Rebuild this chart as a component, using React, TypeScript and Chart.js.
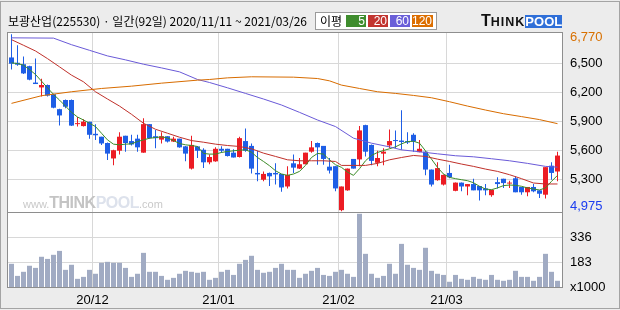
import React, { useEffect, useRef } from 'react';
import { Chart, registerables } from 'chart.js';

Chart.register(...registerables);

// ---- data (KRW, daily, 2020/11/11 ~ 2021/03/26, 92 trading days) ----
const opens = [
  6565, 6510, 6495, 6475, 6305, 6255, 6280, 6185, 6030, 6125,
  6125, 5875, 5855, 5900, 5775, 5745, 5680, 5520, 5600, 5755,
  5700, 5725, 5580, 5875, 5750, 5715, 5750, 5695, 5725, 5645,
  5415, 5645, 5610, 5480, 5490, 5620, 5620, 5580, 5535, 5700,
  5650, 5370, 5300, 5370, 5370, 5360, 5230, 5470, 5415, 5460,
  5590, 5680, 5650, 5435, 5440, 4985, 5190, 5515, 5510, 5865,
  5660, 5475, 5570, 5655, 5710, 5705, 5700, 5765, 5585, 5590,
  5405, 5295, 5250, 5370, 5185, 5270, 5230, 5255, 5235, 5210,
  5140, 5275, 5310, 5260, 5315, 5225, 5170, 5225, 5190, 5145,
  5445, 5385,
];
const highs = [
  6805, 6690, 6575, 6480, 6555, 6345, 6285, 6190, 6035, 6130,
  6130, 5950, 5925, 5900, 5875, 5745, 5685, 5610, 5790, 5755,
  5765, 5765, 5935, 5875, 5815, 5790, 5750, 5745, 5725, 5650,
  5755, 5650, 5625, 5560, 5635, 5645, 5620, 5615, 5745, 5830,
  5675, 5600, 5385, 5375, 5470, 5360, 5440, 5560, 5525, 5580,
  5700, 5685, 5650, 5525, 5440, 5230, 5415, 5515, 5855, 5870,
  5665, 5600, 5625, 5820, 5810, 6020, 5790, 5780, 5710, 5595,
  5405, 5480, 5355, 5455, 5270, 5270, 5255, 5310, 5235, 5255,
  5195, 5325, 5310, 5290, 5335, 5225, 5225, 5255, 5190, 5430,
  5480, 5590,
];
const lows = [
  6440, 6480, 6395, 6330, 6290, 6160, 6160, 6040, 5860, 6040,
  5855, 5850, 5850, 5725, 5710, 5660, 5505, 5450, 5560, 5590,
  5655, 5590, 5580, 5725, 5625, 5675, 5685, 5690, 5630, 5490,
  5405, 5525, 5420, 5460, 5485, 5580, 5540, 5530, 5530, 5590,
  5365, 5285, 5285, 5235, 5250, 5175, 5210, 5370, 5410, 5460,
  5580, 5455, 5455, 5365, 5180, 4975, 5185, 5415, 5440, 5540,
  5450, 5440, 5450, 5625, 5625, 5610, 5670, 5590, 5585, 5345,
  5230, 5290, 5240, 5315, 5180, 5180, 5140, 5190, 5085, 5140,
  5125, 5210, 5215, 5215, 5170, 5145, 5130, 5170, 5110, 5105,
  5300, 5285,
];
const closes = [
  6500, 6490, 6400, 6335, 6290, 6280, 6170, 6045, 5965, 6055,
  5860, 5885, 5900, 5765, 5760, 5675, 5570, 5605, 5745, 5680,
  5665, 5635, 5875, 5730, 5730, 5750, 5695, 5725, 5635, 5570,
  5660, 5600, 5480, 5535, 5620, 5600, 5545, 5530, 5730, 5600,
  5415, 5355, 5360, 5335, 5355, 5220, 5350, 5425, 5460, 5580,
  5635, 5635, 5515, 5395, 5210, 5230, 5415, 5415, 5810, 5590,
  5495, 5525, 5590, 5700, 5700, 5690, 5685, 5695, 5620, 5405,
  5250, 5420, 5350, 5325, 5270, 5230, 5255, 5190, 5190, 5190,
  5195, 5255, 5265, 5265, 5170, 5170, 5225, 5180, 5155, 5430,
  5370, 5550,
];
// volume, thousands of shares
const volumes = [
  173, 99, 124, 161, 148, 216, 203, 228, 252, 136,
  167, 81, 93, 136, 112, 179, 185, 179, 179, 148,
  93, 112, 240, 124, 124, 99, 75, 87, 112, 130,
  124, 118, 124, 75, 87, 124, 136, 105, 173, 197,
  222, 136, 118, 124, 148, 173, 136, 136, 87, 112,
  130, 148, 105, 99, 124, 136, 112, 93, 479, 234,
  112, 87, 99, 173, 112, 295, 167, 148, 136, 271,
  130, 112, 105, 63, 105, 81, 75, 93, 81, 75,
  105, 75, 69, 75, 130, 93, 93, 69, 93, 234,
  124, 69,
];
// moving averages
const ma5 = [
  6509, 6502, 6485, 6440, 6389, 6320, 6251, 6183, 6124, 6062,
  5997, 5949, 5918, 5884, 5850, 5781, 5712, 5668, 5661, 5668,
  5671, 5695, 5712, 5729, 5736, 5743, 5733, 5705, 5675, 5661,
  5654, 5644, 5572, 5565, 5565, 5582, 5592, 5599, 5606, 5609,
  5585, 5530, 5489, 5445, 5393, 5359, 5345, 5359, 5386, 5448,
  5530, 5572, 5565, 5506, 5455, 5428, 5379, 5345, 5414, 5496,
  5551, 5582, 5602, 5620, 5640, 5671, 5695, 5698, 5678, 5599,
  5513, 5428, 5359, 5324, 5311, 5300, 5290, 5269, 5232, 5204,
  5197, 5215, 5239, 5245, 5242, 5232, 5215, 5204, 5194, 5215,
  5283, 5345,
];
const ma20: [number, number][] = [
  [0, 6749], [2, 6691], [4, 6632], [6, 6553], [8, 6468], [10, 6382], [12, 6313],
  [14, 6210], [16, 6135], [18, 6062], [20, 5977], [22, 5884], [24, 5822], [26, 5781],
  [28, 5740], [30, 5705], [32, 5688], [34, 5668], [36, 5654], [38, 5644], [40, 5620],
  [42, 5575], [44, 5541], [46, 5506], [48, 5496], [50, 5496], [52, 5496], [54, 5489],
  [55, 5448], [57, 5448], [59, 5448], [61, 5469], [63, 5506], [65, 5530], [67, 5551],
  [69, 5541], [71, 5513], [73, 5489], [75, 5462], [77, 5438], [79, 5410], [81, 5386],
  [83, 5352], [85, 5311], [87, 5266], [89, 5256], [91, 5256],
];
const ma60: [number, number][] = [
  [0, 6768], [7, 6765], [10, 6697], [13, 6639], [16, 6581], [19, 6540], [22, 6495],
  [25, 6457], [28, 6416], [31, 6337], [33, 6306], [36, 6251], [39, 6193], [42, 6135],
  [45, 6073], [48, 5997], [51, 5918], [54, 5850], [57, 5730], [60, 5678], [63, 5640],
  [65, 5609], [68, 5589], [71, 5568], [74, 5548], [77, 5537], [80, 5517], [83, 5496],
  [86, 5469], [89, 5438], [91, 5430],
];
const ma120: [number, number][] = [
  [0, 6090], [5, 6169], [10, 6210], [15, 6244], [20, 6268], [25, 6299], [31, 6330],
  [33, 6337], [36, 6354], [40, 6365], [47, 6361], [51, 6347], [53, 6323], [55, 6279],
  [58, 6244], [61, 6210], [64, 6193], [67, 6172], [70, 6148], [73, 6107], [76, 6062],
  [79, 6021], [82, 5983], [85, 5953], [88, 5922], [91, 5880],
];
const monthLabels = ['20/12', '21/01', '21/02', '21/03'];
const monthStartIdx = [14, 35, 55, 73];
const periodHigh = 6770;
const periodLow = 4975;
const priceTicks = [4975, 5300, 5600, 5900, 6200, 6500, 6770];
const volumeTicks = [183, 336];
const volumeUnit = 'x1000';
const maLegend = [
  { label: '5', color: '#3f8d2e' },
  { label: '20', color: '#c23530' },
  { label: '60', color: '#6a5fd8' },
  { label: '120', color: '#dc6e00' },
];

// ---- styles ----
const UP = '#ec1c24';
const DOWN = '#1e5ee6';
const GRID = '#d8d8d8';
const FRAME = '#8e8e8e';
const AXIS_FONT = "'Liberation Sans', Arial, sans-serif";
const CJK = "'Noto Sans CJK KR', 'Noto Sans', sans-serif";
const PRICE_MIN = 4966;
const PRICE_MAX = 6818;
const VOL_MIN = 31;
const VOL_MAX = 490;
const TRANSPARENT = 'rgba(0,0,0,0)';

const fmt = (v: number) => v.toLocaleString('en-US');

const framePlugin = {
  id: 'frame',
  beforeDraw(chart: any) {
    const { ctx, chartArea } = chart;
    const { left, top, right, bottom } = chartArea;
    ctx.save();
    ctx.fillStyle = '#ffffff';
    ctx.fillRect(left, top, right - left, bottom - top);
    ctx.restore();
  },
  afterDraw(chart: any) {
    const { ctx, chartArea } = chart;
    const { left, top, right, bottom } = chartArea;
    const divider = chart.scales.y.bottom;
    ctx.save();
    ctx.strokeStyle = FRAME;
    ctx.lineWidth = 1;
    ctx.strokeRect(left - 0.5, top - 0.5, right - left + 1, bottom - top + 1);
    ctx.beginPath();
    ctx.moveTo(left, Math.round(divider) + 0.5);
    ctx.lineTo(right, Math.round(divider) + 0.5);
    ctx.stroke();
    ctx.restore();
  },
};

function StockChart() {
  const ref = useRef<HTMLCanvasElement | null>(null);

  useEffect(() => {
    if (!ref.current) return;
    const colors = opens.map((o, i) => (closes[i] >= o ? UP : DOWN));
    const maLine = (pts: { x: number; y: number }[], color: string, label: string) => ({
      type: 'line' as const,
      label,
      data: pts,
      borderColor: color,
      borderWidth: 1,
      pointRadius: 0,
      tension: 0,
      yAxisID: 'y',
      order: 0,
    });

    const chart = new Chart(ref.current, {
      type: 'bar',
      data: {
        datasets: [
          maLine(ma120.map(([x, y]) => ({ x, y })), '#d86c00', 'MA120'),
          maLine(ma60.map(([x, y]) => ({ x, y })), '#6a5ad8', 'MA60'),
          maLine(ma20.map(([x, y]) => ({ x, y })), '#c0302a', 'MA20'),
          maLine(ma5.map((y, x) => ({ x, y })), '#3c8c28', 'MA5'),
          {
            type: 'bar',
            label: 'body',
            data: opens.map((o, i) => ({ x: i, y: [o, closes[i]] })) as any,
            backgroundColor: colors,
            barThickness: 5,
            minBarLength: 1,
            yAxisID: 'y',
            order: 1,
          },
          {
            type: 'bar',
            label: 'wick',
            data: lows.map((l, i) => ({ x: i, y: [l, highs[i]] })) as any,
            backgroundColor: colors,
            barThickness: 1,
            yAxisID: 'y',
            order: 2,
          },
          {
            type: 'bar',
            label: 'volume',
            data: volumes.map((v, i) => ({ x: i, y: v })) as any,
            backgroundColor: '#a1abc3',
            barThickness: 5,
            yAxisID: 'yv',
            order: 3,
          },
        ] as any,
      },
      options: {
        animation: false,
        responsive: false,
        devicePixelRatio: 1,
        datasets: {
          bar: {
            grouped: false,
            categoryPercentage: 1,
            barPercentage: 1,
            inflateAmount: 0,
            borderWidth: 0,
          } as any,
        },
        layout: { padding: { left: 8, top: 33, right: 0, bottom: 0 } },
        plugins: {
          legend: { display: false },
          tooltip: { enabled: false },
          title: { display: false },
        },
        scales: {
          x: {
            type: 'linear',
            min: -0.5833,
            max: 91.75,
            offset: false,
            afterBuildTicks: (s: any) => {
              s.ticks = monthStartIdx.map((m) => ({ value: m - 0.5 }));
            },
            afterFit: (s: any) => {
              s.height = 23;
            },
            grid: { color: GRID, drawTicks: false, offset: false },
            border: { display: false },
            ticks: {
              autoSkip: false,
              maxRotation: 0,
              padding: 6,
              color: '#000',
              font: { family: AXIS_FONT, size: 13 },
              callback: (_v: any, idx: number) => monthLabels[idx],
            },
          },
          y: {
            type: 'linear',
            position: 'right',
            stack: 'panels',
            stackWeight: 179,
            weight: 0,
            min: PRICE_MIN,
            max: PRICE_MAX,
            beginAtZero: false,
            afterBuildTicks: (s: any) => {
              s.ticks = priceTicks.map((v) => ({ value: v }));
            },
            afterFit: (s: any) => {
              s.width = 58;
            },
            grid: {
              drawTicks: false,
              color: (c: any) =>
                c.tick && (c.tick.value === periodHigh || c.tick.value === periodLow) ? TRANSPARENT : GRID,
            },
            border: { display: false },
            ticks: {
              autoSkip: false,
              padding: 8,
              font: { family: AXIS_FONT, size: 13, lineHeight: 0.7 },
              color: (c: any) =>
                c.tick && c.tick.value === periodHigh ? '#d87000' : c.tick && c.tick.value === periodLow ? '#1a3cf0' : '#000',
              callback: (v: any) => (v === periodLow ? [fmt(v), ''] : fmt(v)),
            },
          },
          yv: {
            type: 'linear',
            position: 'right',
            stack: 'panels',
            stackWeight: 75,
            weight: 1,
            min: VOL_MIN,
            max: VOL_MAX,
            beginAtZero: false,
            afterBuildTicks: (s: any) => {
              s.ticks = [{ value: VOL_MIN }, ...volumeTicks.map((v) => ({ value: v }))];
            },
            afterFit: (s: any) => {
              s.width = 58;
            },
            grid: {
              drawTicks: false,
              color: (c: any) => (c.tick && c.tick.value === VOL_MIN ? TRANSPARENT : GRID),
            },
            border: { display: false },
            ticks: {
              autoSkip: false,
              padding: 8,
              color: '#000',
              font: { family: AXIS_FONT, size: 13 },
              callback: (v: any) => (v === VOL_MIN ? volumeUnit : String(v)),
            },
          },
        } as any,
      },
      plugins: [framePlugin],
    });
    return () => chart.destroy();
  }, []);

  return (
    <canvas
      ref={ref}
      width={620}
      height={310}
      style={{ position: 'absolute', left: 0, top: 0, width: 620, height: 310, display: 'block' }}
    />
  );
}

export default function App() {
  return (
    <div
      style={{
        position: 'absolute',
        left: 0,
        top: 0,
        width: 620,
        height: 310,
        background: '#ececec',
        overflow: 'hidden',
      }}
    >
      <div
        style={{
          position: 'absolute',
          left: 0,
          top: 1,
          width: 620,
          height: 308,
          border: '1px solid #a4a4a4',
          boxSizing: 'border-box',
        }}
      />
      <StockChart />
      {/* title */}
      <div
        style={{
          position: 'absolute',
          left: 8,
          top: 13,
          fontFamily: CJK,
          fontSize: 12,
          lineHeight: '16px',
          color: '#000',
          whiteSpace: 'nowrap',
        }}
      >
        보광산업(225530) · 일간(92일) 2020/11/11 ~ 2021/03/26
      </div>
      {/* MA legend */}
      <div
        style={{
          position: 'absolute',
          left: 315,
          top: 12,
          width: 122,
          height: 18,
          border: '1px solid #9a9a9a',
          background: '#fff',
          boxSizing: 'border-box',
        }}
      >
        <span
          style={{
            position: 'absolute',
            left: 4,
            top: 0,
            fontFamily: CJK,
            fontSize: 12,
            lineHeight: '16px',
            color: '#000',
          }}
        >
          이평
        </span>
        {maLegend.map((m, k) => (
          <span
            key={m.label}
            style={{
              position: 'absolute',
              left: 30 + k * 22,
              top: 2,
              width: k === 3 ? 21 : 20,
              height: 12,
              background: m.color,
              color: '#fff',
              fontFamily: AXIS_FONT,
              fontSize: 12,
              lineHeight: '12px',
              textAlign: 'right',
              paddingRight: 1,
              boxSizing: 'border-box',
            }}
          >
            {m.label}
          </span>
        ))}
      </div>
      {/* logo */}
      <div
        style={{
          position: 'absolute',
          left: 481,
          top: 12,
          height: 16,
          display: 'flex',
          alignItems: 'baseline',
          fontFamily: AXIS_FONT,
          fontWeight: 'bold',
          whiteSpace: 'nowrap',
        }}
      >
        <span style={{ fontSize: 16, color: '#111' }}>T</span>
        <span style={{ fontSize: 12.5, color: '#111', letterSpacing: 1 }}>HINK</span>
        <span style={{ fontSize: 13, color: '#fff', background: '#2f6fd8', lineHeight: '13px' }}>POOL</span>
      </div>
      {/* watermark */}
      <div
        style={{
          position: 'absolute',
          left: 23,
          top: 195,
          display: 'flex',
          alignItems: 'baseline',
          fontFamily: AXIS_FONT,
          whiteSpace: 'nowrap',
          pointerEvents: 'none',
          lineHeight: '16px',
        }}
      >
        <span style={{ fontSize: 11, color: '#c9c9c9' }}>www.</span>
        <span style={{ fontSize: 16, fontWeight: 'bold', color: '#c4c4c4', letterSpacing: -0.5 }}>THINK</span>
        <span style={{ fontSize: 16, fontWeight: 'bold', color: '#dde2ec', letterSpacing: -0.5 }}>POOL</span>
        <span style={{ fontSize: 11, color: '#c9c9c9' }}>.com</span>
      </div>
    </div>
  );
}
